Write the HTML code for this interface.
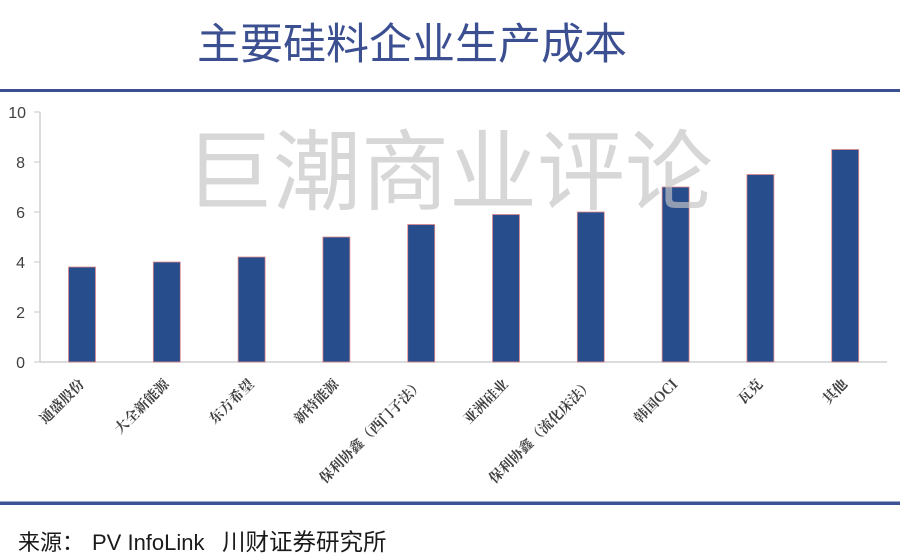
<!DOCTYPE html>
<html><head><meta charset="utf-8"><style>
html,body{margin:0;padding:0;background:#fff;}
svg{display:block;}
</style></head><body>
<svg width="900" height="556" viewBox="0 0 900 556" xmlns="http://www.w3.org/2000/svg">
<rect width="900" height="556" fill="#fff"/>
<text x="412" y="59" text-anchor="middle" font-family="'Liberation Sans','Noto Sans CJK SC',sans-serif" font-size="43" fill="#3b4f91">主要硅料企业生产成本</text>
<rect x="0" y="89" width="900" height="3" fill="#3c4f92"/>
<!-- axes -->
<line x1="40" y1="112" x2="40" y2="362" stroke="#d0d0d0" stroke-width="1.5"/>
<line x1="40" y1="362" x2="887" y2="362" stroke="#d0d0d0" stroke-width="1.5"/>
<g stroke="#d0d0d0" stroke-width="1.2">
<line x1="34" y1="112" x2="40" y2="112"/>
<line x1="34" y1="162" x2="40" y2="162"/>
<line x1="34" y1="212" x2="40" y2="212"/>
<line x1="34" y1="262" x2="40" y2="262"/>
<line x1="34" y1="312" x2="40" y2="312"/>
<line x1="34" y1="362" x2="40" y2="362"/>
</g>
<g font-family="'Liberation Sans',sans-serif" font-size="16" fill="#404040" text-anchor="end">
<text x="26" y="118">10</text>
<text x="25" y="168">8</text>
<text x="25" y="218">6</text>
<text x="25" y="268">4</text>
<text x="25" y="318">2</text>
<text x="25" y="368">0</text>
</g>
<!-- bars -->
<g fill="#284d8c" stroke="#e08a8a" stroke-width="0.8">
<rect x="68.5" y="267" width="27" height="95"/>
<rect x="153.3" y="262" width="27" height="100"/>
<rect x="238.1" y="257" width="27" height="105"/>
<rect x="322.9" y="237" width="27" height="125"/>
<rect x="407.7" y="224.5" width="27" height="137.5"/>
<rect x="492.5" y="214.5" width="27" height="147.5"/>
<rect x="577.3" y="212" width="27" height="150"/>
<rect x="662.1" y="187" width="27" height="175"/>
<rect x="746.9" y="174.5" width="27" height="187.5"/>
<rect x="831.7" y="149.5" width="27" height="212.5"/>
</g>
<!-- watermark -->
<text x="185" y="203" font-family="'Noto Sans CJK SC',sans-serif" font-size="88" fill="#c4c4c4" fill-opacity="0.68">巨潮商业评论</text>
<!-- x labels -->
<g font-family="'Noto Serif CJK SC','Noto Sans CJK SC',serif" font-size="14" font-weight="bold" fill="#404040" text-anchor="end">
<text transform="translate(85,385) rotate(-45)">通盛股份</text>
<text transform="translate(169.8,385) rotate(-45)">大全新能源</text>
<text transform="translate(254.6,385) rotate(-45)">东方希望</text>
<text transform="translate(339.4,385) rotate(-45)">新特能源</text>
<text transform="translate(424.2,385) rotate(-45)">保利协鑫（西门子法）</text>
<text transform="translate(509,385) rotate(-45)">亚洲硅业</text>
<text transform="translate(593.8,385) rotate(-45)">保利协鑫（流化床法）</text>
<text transform="translate(678.6,385) rotate(-45)">韩国OCI</text>
<text transform="translate(763.4,385) rotate(-45)">瓦克</text>
<text transform="translate(848.2,385) rotate(-45)">其他</text>
</g>
<rect x="0" y="501.5" width="900" height="3.5" fill="#3d5296"/>
<g font-family="'Liberation Sans','Noto Sans CJK SC',sans-serif" font-size="22" fill="#1a1a1a">
<text x="18" y="550">来源：</text>
<text x="92" y="550">PV InfoLink</text>
<text x="222" y="550" font-size="23.5">川财证券研究所</text>
</g>
</svg>
</body></html>
